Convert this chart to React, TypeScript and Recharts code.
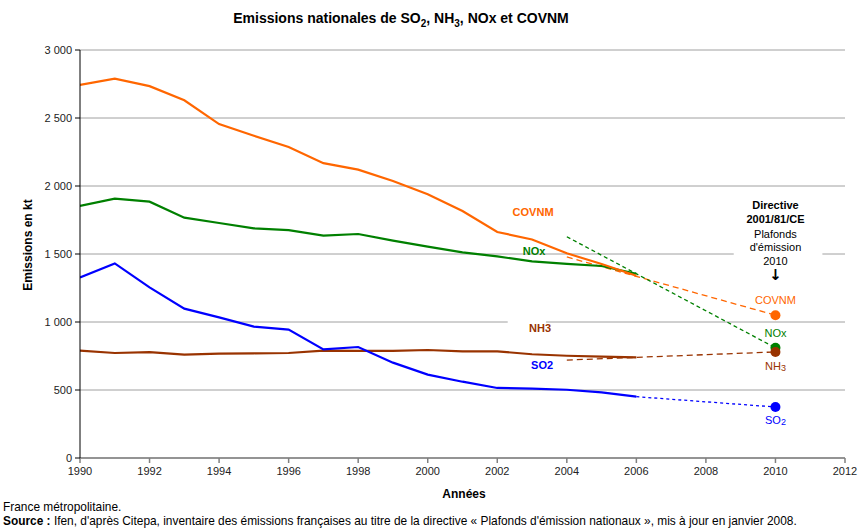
import React from 'react';
import {
  LineChart, Line, XAxis, YAxis, CartesianGrid, ReferenceDot, ReferenceArea,
} from 'recharts';

// emissions en kt, France métropolitaine
const years = [1990, 1991, 1992, 1993, 1994, 1995, 1996, 1997, 1998, 1999, 2000, 2001, 2002, 2003, 2004, 2005, 2006];
const covnm = [2743, 2790, 2734, 2630, 2455, 2370, 2287, 2168, 2120, 2037, 1940, 1816, 1662, 1607, 1505, 1426, 1340];
const nox = [1853, 1907, 1885, 1767, 1728, 1689, 1676, 1635, 1647, 1598, 1554, 1512, 1482, 1446, 1428, 1412, 1355];
const so2 = [1328, 1431, 1255, 1098, 1034, 966, 944, 799, 816, 701, 613, 561, 515, 510, 502, 482, 451];
const nh3 = [789, 772, 779, 760, 767, 770, 772, 789, 787, 787, 794, 784, 784, 763, 752, 745, 740];

// tendances vers les plafonds 2010 (directive 2001/81/CE)
const covnmTrend = [{ year: 2004, v: 1478 }, { year: 2010, v: 1050 }];
const noxTrend = [{ year: 2004, v: 1627 }, { year: 2010, v: 810 }];
const nh3Trend = [{ year: 2004, v: 720 }, { year: 2010, v: 780 }];
const so2Trend = [{ year: 2006, v: 451 }, { year: 2010, v: 375 }];

const xTicks = [1990, 1992, 1994, 1996, 1998, 2000, 2002, 2004, 2006, 2008, 2010, 2012];
const yTicks = [0, 500, 1000, 1500, 2000, 2500, 3000];

const ORANGE = '#ff6600';
const GREEN = '#008000';
const BLUE = '#0000ff';
const BROWN = '#993300';
const FONT = 'Arial, "Liberation Sans", sans-serif';

const data = years.map((year, i) => ({
  year, covnm: covnm[i], nox: nox[i], so2: so2[i], nh3: nh3[i],
}));

const fmt = (v: number) =>
  v >= 1000 ? `${Math.floor(v / 1000)}\u00a0${String(v % 1000).padStart(3, '0')}` : String(v);

const targetDot = (color: string) => (props: any) => {
  const { cx, cy, payload, index } = props;
  if (payload.year !== 2010) return <g key={index} />;
  return <circle key={index} cx={cx} cy={cy} r={5} fill={color} stroke="none" />;
};

const annot = (text: string, color: string, bold: boolean, sub?: string, size = 11, family = FONT) => (props: any) => {
  const vb = props.viewBox || {};
  const cx = (vb.x ?? 0) + (vb.width ?? 0) / 2;
  const cy = (vb.y ?? 0) + (vb.height ?? 0) / 2;
  return (
    <text x={cx} y={cy} dy="0.35em" textAnchor="middle" fill={color}
      fontSize={size} fontWeight={bold ? 'bold' : 'normal'} fontFamily={family}>
      {text}
      {sub && <tspan fontSize={9} dy={1}>{sub}</tspan>}
    </text>
  );
};

const note = (x: number, y: number, content: any) => (
  <ReferenceDot x={x} y={y} r={0} fill="none" stroke="none" ifOverflow="visible" label={content} />
);

export default function App() {
  return (
    <div style={{ position: 'relative', width: 860, height: 529, fontFamily: FONT, background: '#fff' }}>
      <style>{'body{margin:0}'}</style>
      <div style={{ position: 'absolute', top: 10, left: 0, width: 802, textAlign: 'center', fontSize: 14, fontWeight: 'bold' }}>
        Emissions nationales de SO<sub style={{ fontSize: 10 }}>2</sub>, NH<sub style={{ fontSize: 10 }}>3</sub>, NOx et COVNM
      </div>
      <div style={{ position: 'absolute', left: 28, top: 245, transform: 'translate(-50%,-50%) rotate(-90deg)', fontSize: 12, fontWeight: 'bold', whiteSpace: 'nowrap' }}>
        Emissions en kt
      </div>
      <div style={{ position: 'absolute', left: 464, top: 494, transform: 'translate(-50%,-50%)', fontSize: 12, fontWeight: 'bold' }}>
        Années
      </div>
      <div style={{ position: 'absolute', left: 3, top: 500, fontSize: 11.9, whiteSpace: 'nowrap' }}>
        France métropolitaine.
      </div>
      <div style={{ position: 'absolute', left: 3, top: 514, fontSize: 11.9, whiteSpace: 'nowrap' }}>
        <b>Source :</b> Ifen, d'après Citepa, inventaire des émissions françaises au titre de la directive « Plafonds d'émission nationaux », mis à jour en janvier 2008.
      </div>

      <div style={{ position: 'absolute', top: 0, left: 0 }}>
        <LineChart width={860} height={529} data={data} margin={{ top: 50, right: 15, bottom: 41, left: 20 }}>
          <CartesianGrid vertical={false} stroke="#a0a0a0" strokeWidth={1} />
          <XAxis dataKey="year" type="number" domain={[1990, 2012]} ticks={xTicks} allowDataOverflow
            height={30} tickSize={5} stroke="#808080" strokeWidth={1.5}
            tick={{ fill: '#222', fontSize: 11, fontFamily: FONT }} tickMargin={4} />
          <YAxis type="number" domain={[0, 3000]} ticks={yTicks} width={60} tickSize={5}
            stroke="#000" tickFormatter={fmt} tick={{ fill: '#222', fontSize: 11, fontFamily: FONT }} tickMargin={3} />

          <ReferenceArea x1={2008.8} x2={2011.35} y1={1300} y2={1920} fill="#fff" fillOpacity={1} stroke="none" ifOverflow="visible" />
          <ReferenceArea x1={2002.3} x2={2003.4} y1={930} y2={1070} fill="#fff" fillOpacity={1} stroke="none" ifOverflow="visible" />

          <Line data={covnmTrend} dataKey="v" stroke={ORANGE} strokeWidth={1.3} strokeDasharray="6 4" dot={targetDot(ORANGE)} isAnimationActive={false} />
          <Line data={noxTrend} dataKey="v" stroke={GREEN} strokeWidth={1.3} strokeDasharray="4 3" dot={targetDot(GREEN)} isAnimationActive={false} />
          <Line data={nh3Trend} dataKey="v" stroke={BROWN} strokeWidth={1.3} strokeDasharray="6 4" dot={targetDot(BROWN)} isAnimationActive={false} />
          <Line data={so2Trend} dataKey="v" stroke={BLUE} strokeWidth={1.3} strokeDasharray="3 3" dot={targetDot(BLUE)} isAnimationActive={false} />

          <Line dataKey="nh3" stroke={BROWN} strokeWidth={2.2} dot={false} isAnimationActive={false} />
          <Line dataKey="so2" stroke={BLUE} strokeWidth={2.2} dot={false} isAnimationActive={false} />
          <Line dataKey="nox" stroke={GREEN} strokeWidth={2.2} dot={false} isAnimationActive={false} />
          <Line dataKey="covnm" stroke={ORANGE} strokeWidth={2.2} dot={false} isAnimationActive={false} />

          {note(2003.03, 1809, annot('COVNM', ORANGE, true))}
          {note(2003.06, 1522, annot('NOx', GREEN, true))}
          {note(2003.23, 956, annot('NH3', BROWN, true))}
          {note(2003.29, 684, annot('SO2', BLUE, true))}

          {note(2010, 1162, annot('COVNM', ORANGE, false))}
          {note(2010, 919, annot('NOx', GREEN, false))}
          {note(2010, 672, annot('NH', BROWN, false, '3'))}
          {note(2010, 275, annot('SO', BLUE, false, '2'))}

          {note(2010, 1860, annot('Directive', '#000', true))}
          {note(2010, 1757, annot('2001/81/CE', '#000', true))}
          {note(2010, 1647, annot('Plafonds', '#000', false))}
          {note(2010, 1551, annot("d'émission", '#000', false))}
          {note(2010, 1449, annot('2010', '#000', false))}
          {note(2010, 1345, annot('\u2193', '#000', true, undefined, 15, '"DejaVu Sans", sans-serif'))}
        </LineChart>
      </div>
    </div>
  );
}
